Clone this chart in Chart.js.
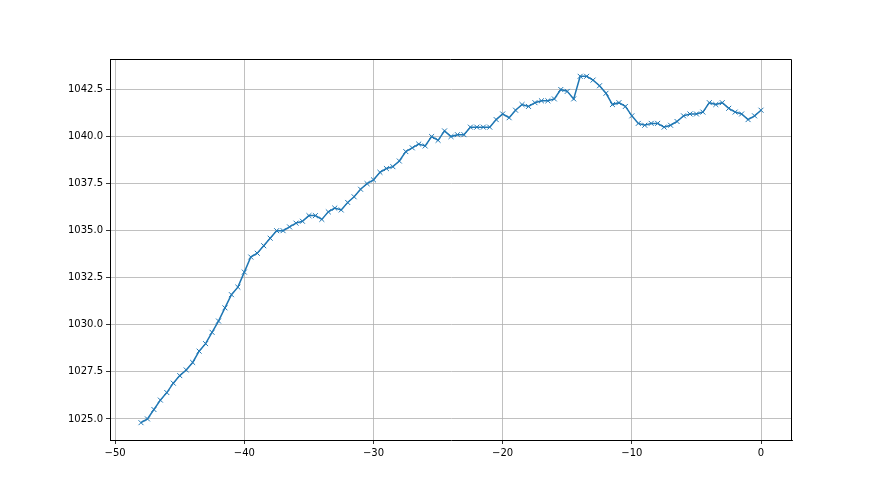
<!DOCTYPE html>
<html>
<head>
<meta charset="utf-8">
<script src="https://cdn.jsdelivr.net/npm/chart.js@4/dist/chart.umd.min.js"></script>
<style>
  html, body { margin: 0; padding: 0; background: #fff; }
  canvas { display: block; }
</style>
</head>
<body>
<canvas id="lineChart" width="880" height="495"></canvas>
<script>
// x positions (every 0.5 from -48 to 0)
const xValues = [
  -48, -47.5, -47, -46.5, -46, -45.5, -45, -44.5, -44, -43.5, -43, -42.5,
  -42, -41.5, -41, -40.5, -40, -39.5, -39, -38.5, -38, -37.5, -37, -36.5,
  -36, -35.5, -35, -34.5, -34, -33.5, -33, -32.5, -32, -31.5, -31, -30.5,
  -30, -29.5, -29, -28.5, -28, -27.5, -27, -26.5, -26, -25.5, -25, -24.5,
  -24, -23.5, -23, -22.5, -22, -21.5, -21, -20.5, -20, -19.5, -19, -18.5,
  -18, -17.5, -17, -16.5, -16, -15.5, -15, -14.5, -14, -13.5, -13, -12.5,
  -12, -11.5, -11, -10.5, -10, -9.5, -9, -8.5, -8, -7.5, -7, -6.5,
  -6, -5.5, -5, -4.5, -4, -3.5, -3, -2.5, -2, -1.5, -1, -0.5, 0
];
const yValues = [
  1024.8, 1025.0, 1025.5, 1026.0, 1026.4, 1026.9, 1027.3, 1027.6, 1028.0, 1028.6, 1029.0, 1029.6,
  1030.2, 1030.9, 1031.6, 1032.0, 1032.8, 1033.6, 1033.8, 1034.2, 1034.6, 1035.0, 1035.0, 1035.2,
  1035.4, 1035.5, 1035.8, 1035.8, 1035.6, 1036.0, 1036.2, 1036.1, 1036.5, 1036.8, 1037.2, 1037.5,
  1037.7, 1038.1, 1038.3, 1038.4, 1038.7, 1039.2, 1039.4, 1039.6, 1039.5, 1040.0, 1039.8, 1040.3,
  1040.0, 1040.1, 1040.1, 1040.5, 1040.5, 1040.5, 1040.5, 1040.9, 1041.2, 1041.0, 1041.4, 1041.7,
  1041.6, 1041.8, 1041.9, 1041.9, 1042.0, 1042.5, 1042.4, 1042.0, 1043.2, 1043.2, 1043.0, 1042.7,
  1042.3, 1041.7, 1041.8, 1041.6, 1041.1, 1040.7, 1040.6, 1040.7, 1040.7, 1040.5, 1040.6, 1040.8,
  1041.1, 1041.2, 1041.2, 1041.3, 1041.8, 1041.7, 1041.8, 1041.5, 1041.3, 1041.2, 1040.9, 1041.1, 1041.4
];
const xTicks = [-50, -40, -30, -20, -10, 0];
const yTicks = [1025.0, 1027.5, 1030.0, 1032.5, 1035.0, 1037.5, 1040.0, 1042.5];

Chart.defaults.font.family = "'DejaVu Sans', sans-serif";
Chart.defaults.font.size = 10;
Chart.defaults.color = '#000';

// top and right spines (left/bottom come from the axis borders)
const frameBox = {
  id: 'frameBox',
  afterDraw(chart) {
    const a = chart.chartArea;
    const ctx = chart.ctx;
    ctx.save();
    ctx.strokeStyle = '#000';
    ctx.lineWidth = 1;
    ctx.beginPath();
    ctx.moveTo(a.left, a.top + 0.5);
    ctx.lineTo(a.right - 0.5, a.top + 0.5);
    ctx.lineTo(a.right - 0.5, a.bottom);
    ctx.stroke();
    ctx.restore();
  }
};

let lineCtx = document.getElementById('lineChart');
let lineConfig = {
  type: 'line',
  data: {
    datasets: [{
      data: xValues.map((x, i) => ({ x: x, y: yValues[i] })),
      borderColor: '#1f77b4',
      backgroundColor: '#1f77b4',
      borderWidth: 1.5,
      pointStyle: 'crossRot',
      pointRadius: 3.5,
      pointBorderWidth: 1,
      pointBorderColor: '#1f77b4',
      tension: 0,
      fill: false
    }]
  },
  options: {
    responsive: false,
    animation: false,
    layout: { padding: { left: 0, top: 59, right: 88, bottom: 0 } },
    plugins: { legend: { display: false }, tooltip: { enabled: false } },
    scales: {
      x: {
        type: 'linear',
        min: -50.4,
        max: 2.4,
        afterBuildTicks: (s) => { s.ticks = xTicks.map(v => ({ value: v })); },
        afterFit: (s) => { s.height = 55; },
        grid: { color: '#b0b0b0', lineWidth: 0.8, tickColor: '#000', tickLength: 4 },
        border: { display: true, color: '#000', width: 1 },
        ticks: { padding: 3, maxRotation: 0, callback: (v) => String(v).replace('-', '\u2212') }
      },
      y: {
        type: 'linear',
        min: 1023.88,
        max: 1044.12,
        afterBuildTicks: (s) => { s.ticks = yTicks.map(v => ({ value: v })); },
        afterFit: (s) => { s.width = 110; },
        grid: { color: '#b0b0b0', lineWidth: 0.8, tickColor: '#000', tickLength: 4 },
        border: { display: true, color: '#000', width: 1 },
        ticks: { padding: 3, callback: (v) => Number(v).toFixed(1) }
      }
    }
  },
  plugins: [frameBox]
};
let lineChart = new Chart(lineCtx, lineConfig);
</script>
</body>
</html>
